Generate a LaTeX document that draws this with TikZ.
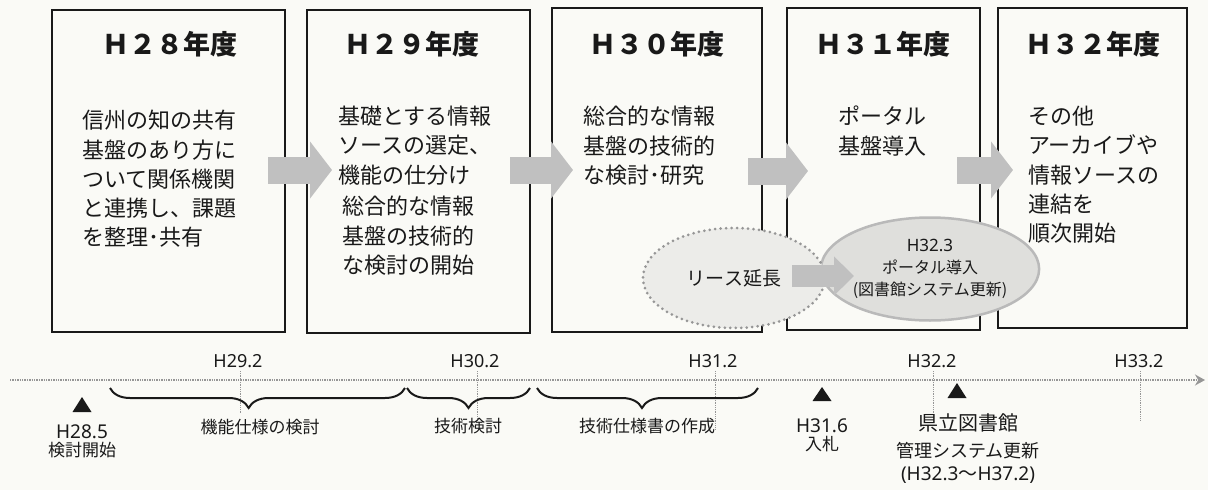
\documentclass[tikz,border=0pt]{standalone}
\usepackage{fontspec}
\setmainfont{Noto Sans CJK JP}
\newfontfamily\lat{Noto Sans}
\usetikzlibrary{shapes.geometric,arrows.meta,decorations.pathreplacing,calc}
\definecolor{bgc}{RGB}{250,250,246}
\definecolor{ink}{RGB}{25,25,25}
\definecolor{arrowgray}{RGB}{192,192,192}
\definecolor{leasefill}{RGB}{236,236,233}
\definecolor{portalfill}{RGB}{223,223,220}
\definecolor{portaledge}{RGB}{185,185,185}
\definecolor{dotgray}{RGB}{150,150,150}
\begin{document}
\begin{tikzpicture}[x=1pt,y=-1pt,
  yearbox/.style={draw=ink,line width=1.8pt,inner sep=0},
  yeartitle/.style={font=\fontsize{27}{30}\selectfont\bfseries,text=ink,inner sep=0},
  bodytext/.style={font=\fontsize{22}{29.3}\selectfont,text=ink,align=left,inner sep=0,anchor=north west},
  blockarrow/.style={draw=arrowgray,line width=27pt,-{Triangle[length=22pt,width=56pt]}},
  smallarrow/.style={draw=arrowgray,line width=22pt,-{Triangle[length=20pt,width=38pt]}},
  timeline/.style={draw=dotgray,line width=1.4pt,densely dotted,-{Stealth[length=10pt,width=11pt]}},
  tickline/.style={draw=dotgray,line width=0.8pt,densely dotted},
  ticklbl/.style={font=\lat\fontsize{18}{20}\selectfont,text=ink,inner sep=0,anchor=base},
  marklbl/.style={font=\lat\fontsize{19}{21}\selectfont,text=ink,inner sep=0,anchor=base},
  jplbl/.style={font=\fontsize{17}{20}\selectfont,text=ink,inner sep=0},
  curly/.style={decorate,draw=ink,line width=2pt},
  milestone/.style={fill=ink}
]
\fill[bgc] (0,0) rectangle (1208,490);
\useasboundingbox (0,0) rectangle (1208,490);

% year boxes
\node[yearbox,minimum width=233,minimum height=322] (b1) at (168.5,171) {};
\node[yearbox,minimum width=223,minimum height=323] (b2) at (418.5,171.5) {};
\node[yearbox,minimum width=210,minimum height=324] (b3) at (657,170) {};
\node[yearbox,minimum width=193,minimum height=322] (b4) at (883.5,169) {};
\node[yearbox,minimum width=189,minimum height=320] (b5) at (1092.5,168) {};

% titles
\node[yeartitle] (t1) at (170,44) {Ｈ２８年度};
\node[yeartitle] (t2) at (412,44) {Ｈ２９年度};
\node[yeartitle] (t3) at (657,44) {Ｈ３０年度};
\node[yeartitle] (t4) at (883,44) {Ｈ３１年度};
\node[yeartitle] (t5) at (1093,44) {Ｈ３２年度};

% body texts
\node[bodytext] (d1) at (82,110) {信州の知の共有\\基盤のあり方に\\ついて関係機関\\と連携し、課題\\を整理･共有};
\node[bodytext] (d2a) at (338,106) {基礎とする情報\\ソースの選定、\\機能の仕分け};
\node[bodytext] (d2b) at (342,196) {総合的な情報\\基盤の技術的\\な検討の開始};
\node[bodytext] (d3) at (583,106) {総合的な情報\\基盤の技術的\\な検討･研究};
\node[bodytext,align=center,anchor=north] (d4) at (882,106) {ポータル\\基盤導入};
\node[bodytext] (d5) at (1028,106) {その他\\アーカイブや\\情報ソースの\\連結を\\順次開始};

% block arrows between boxes
\coordinate (a1s) at (268,170); \coordinate (a1e) at (332,170);
\coordinate (a2s) at (510,170); \coordinate (a2e) at (573,170);
\coordinate (a3s) at (748,171); \coordinate (a3e) at (808,171);
\coordinate (a4s) at (957,170); \coordinate (a4e) at (1013,170);
\draw[blockarrow] (a1s) -- (a1e);
\draw[blockarrow] (a2s) -- (a2e);
\draw[blockarrow] (a3s) -- (a3e);
\draw[blockarrow] (a4s) -- (a4e);

% ellipses
\node[ellipse,fill=portalfill,draw=portaledge,line width=2.5pt,minimum width=200,minimum height=103,inner sep=0,align=center,font=\fontsize{16}{22}\selectfont,text=ink] (portal) at (930,269) {{\lat\fontsize{17}{22}\selectfont H32.3}\\ポータル導入\\(図書館システム更新)};
\node[ellipse,fill=leasefill,draw=dotgray,line width=3pt,dash pattern=on 0pt off 5.5pt,line cap=round,minimum width=182,minimum height=100,inner sep=0,font=\fontsize{19}{22}\selectfont,text=ink] (lease) at (734,278) {リース延長};
\coordinate (a5s) at (792,276); \coordinate (a5e) at (854,276);
\draw[smallarrow] (a5s) -- (a5e);

% timeline
\coordinate (tl0) at (10,380); \coordinate (tl1) at (1205,380);
\draw[timeline] (tl0) -- (tl1);

\node[ticklbl] (h292) at (238,367) {H29.2};
\node[ticklbl] (h302) at (475,367) {H30.2};
\node[ticklbl] (h312) at (713,367) {H31.2};
\node[ticklbl] (h322) at (932,367) {H32.2};
\node[ticklbl] (h332) at (1139,367) {H33.2};
\draw[tickline] (240,371) -- (240,413);
\draw[tickline] (477,371) -- (477,420);
\draw[tickline] (715,371) -- (715,430);
\draw[tickline] (933,371) -- (933,413);
\draw[tickline] (1140,371) -- (1140,420);

% braces
\draw[curly,decoration={brace,mirror,amplitude=20pt,aspect=0.47}] (110,388) -- (405,388);
\draw[curly,decoration={brace,mirror,amplitude=20pt,aspect=0.5}] (407,388) -- (530,388);
\draw[curly,decoration={brace,mirror,amplitude=20pt,aspect=0.475}] (537,388) -- (758,388);
\node[jplbl] (k1) at (260,427) {機能仕様の検討};
\node[jplbl] (k2) at (468,426) {技術検討};
\node[jplbl] (k3) at (647,426) {技術仕様書の作成};

% milestones
\fill[milestone] (82,397) -- (91.5,412) -- (72.5,412) -- cycle;
\fill[milestone] (822,387) -- (831.5,401) -- (812.5,401) -- cycle;
\fill[milestone] (957,383) -- (966.5,398) -- (947.5,398) -- cycle;
\node[marklbl] (m1a) at (82,438) {H28.5};
\node[jplbl] (m1b) at (82,450) {検討開始};
\node[marklbl] (m2a) at (822,432) {H31.6};
\node[jplbl] (m2b) at (822,444) {入札};
\node[jplbl,font=\fontsize{20}{22}\selectfont] (m3a) at (968,423) {県立図書館};
\node[jplbl,font=\fontsize{18}{22}\selectfont] (m3b) at (968,451) {管理システム更新};
\node[jplbl,font=\fontsize{19}{22}\selectfont] (m3c) at (968,475) {{\lat (H32.3}～{\lat H37.2)}};
\end{tikzpicture}
\end{document}
